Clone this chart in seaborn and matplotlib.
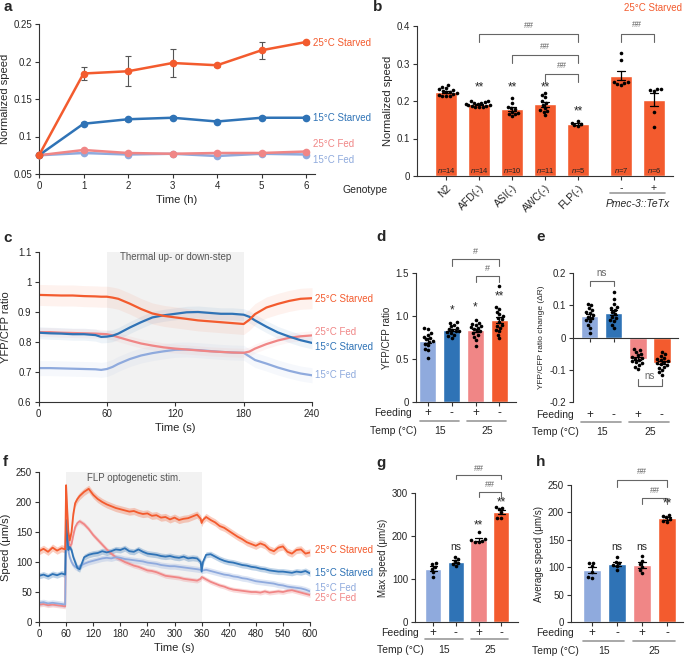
import numpy as np
import pandas as pd
import matplotlib
matplotlib.use('Agg')
import matplotlib.pyplot as plt
from matplotlib.ticker import FormatStrFormatter
import seaborn as sns

sns.set_style('ticks')
plt.rcParams['font.family'] = ['Liberation Sans', 'DejaVu Sans']
plt.rcParams['axes.unicode_minus'] = False
plt.rcParams['axes.linewidth'] = 0.8
plt.rcParams['axes.edgecolor'] = '#333333'
plt.rcParams['mathtext.fontset'] = 'custom'
plt.rcParams['mathtext.it'] = 'Liberation Sans:italic'

C25S = '#F35B2E'
C15S = '#2F73B6'
C25F = '#F08686'
C15F = '#8FAADD'
GREY = '#666666'

# ---------------- data ----------------
# a: normalized speed over starvation time
hours = [0, 1, 2, 3, 4, 5, 6]
a_25s = [0.075, 0.184, 0.187, 0.198, 0.195, 0.215, 0.226]
a_25s_err = [0, 0.009, 0.020, 0.019, 0.002, 0.011, 0.002]
a_15s = [0.075, 0.117, 0.123, 0.125, 0.120, 0.125, 0.125]
a_15s_err = [0, 0.002, 0.002, 0.002, 0.002, 0.002, 0.002]
a_25f = [0.075, 0.082, 0.078, 0.077, 0.078, 0.078, 0.080]
a_25f_err = [0, 0.002, 0.001, 0.001, 0.001, 0.001, 0.001]
a_15f = [0.075, 0.078, 0.076, 0.077, 0.074, 0.077, 0.076]
a_15f_err = [0, 0.001, 0.001, 0.001, 0.001, 0.001, 0.001]

# b: normalized speed by genotype (25C starved)
b_names = ['N2', 'AFD(-)', 'ASI(-)', 'AWC(-)', 'FLP(-)', '-', '+']
b_pos = [0, 1, 2, 3, 4, 5.3, 6.3]
b_n2 = [0.243, 0.238, 0.235, 0.232, 0.229, 0.227, 0.225, 0.223, 0.221, 0.219, 0.217, 0.214, 0.213, 0.214]
b_afd = [0.201, 0.199, 0.197, 0.195, 0.194, 0.192, 0.191, 0.190, 0.189, 0.188, 0.186, 0.185, 0.183, 0.184]
b_asi = [0.209, 0.196, 0.185, 0.182, 0.178, 0.172, 0.168, 0.166, 0.165, 0.159]
b_awc = [0.222, 0.215, 0.211, 0.200, 0.196, 0.190, 0.182, 0.176, 0.174, 0.172, 0.163]
b_flp = [0.147, 0.142, 0.138, 0.135, 0.133]
b_tetx_minus = [0.327, 0.309, 0.252, 0.250, 0.248, 0.246, 0.244]
b_tetx_plus = [0.233, 0.231, 0.229, 0.226, 0.172, 0.130]
b_stars = ['', '**', '**', '**', '**', '', '']

# c: YFP/CFP ratio traces
t_c = [0, 10, 20, 30, 40, 50, 55, 60, 65, 70, 80, 90, 100, 110, 120, 130, 140, 150,
       160, 170, 180, 185, 190, 200, 210, 220, 230, 240]
c_25s = [0.957, 0.956, 0.955, 0.955, 0.953, 0.952, 0.951, 0.951, 0.948, 0.944, 0.928, 0.910,
         0.895, 0.887, 0.882, 0.877, 0.872, 0.869, 0.866, 0.863, 0.860, 0.874, 0.893, 0.915,
         0.927, 0.937, 0.944, 0.946]
c_15s = [0.831, 0.829, 0.828, 0.826, 0.826, 0.823, 0.817, 0.818, 0.821, 0.828, 0.848, 0.866,
         0.882, 0.889, 0.894, 0.899, 0.900, 0.897, 0.894, 0.894, 0.891, 0.884, 0.872, 0.851,
         0.832, 0.818, 0.806, 0.797]
c_25f = [0.833, 0.833, 0.831, 0.830, 0.829, 0.828, 0.827, 0.826, 0.822, 0.816, 0.805, 0.795,
         0.788, 0.782, 0.778, 0.775, 0.772, 0.769, 0.767, 0.765, 0.764, 0.768, 0.778, 0.793,
         0.805, 0.814, 0.819, 0.822]
c_15f = [0.713, 0.713, 0.712, 0.711, 0.710, 0.709, 0.707, 0.710, 0.717, 0.727, 0.743, 0.755,
         0.763, 0.769, 0.774, 0.775, 0.773, 0.770, 0.767, 0.765, 0.764, 0.752, 0.740, 0.728,
         0.715, 0.704, 0.695, 0.689]
c_err = {'25S': 0.035, '15S': 0.02, '25F': 0.015, '15F': 0.025}

# d, e: ratio and ratio change (15F, 15S, 25F, 25S)
d_15f = [0.86, 0.85, 0.80, 0.78, 0.76, 0.74, 0.73, 0.71, 0.70, 0.68, 0.66, 0.62, 0.60, 0.51]
d_15s = [0.93, 0.92, 0.90, 0.88, 0.86, 0.85, 0.84, 0.83, 0.82, 0.81, 0.80, 0.78, 0.77, 0.75]
d_25f = [0.95, 0.92, 0.91, 0.90, 0.88, 0.87, 0.86, 0.85, 0.83, 0.82, 0.80, 0.78, 0.76, 0.72, 0.65]
d_25s = [1.35, 1.10, 1.08, 1.05, 1.02, 1.00, 0.98, 0.96, 0.93, 0.90, 0.88, 0.86, 0.84, 0.82, 0.78, 0.74]
e_15f = [0.105, 0.100, 0.092, 0.085, 0.080, 0.075, 0.070, 0.065, 0.060, 0.055, 0.050, 0.040, 0.030, 0.015]
e_15s = [0.140, 0.120, 0.105, 0.095, 0.090, 0.085, 0.078, 0.072, 0.065, 0.060, 0.055, 0.050, 0.040, 0.030]
e_25f = [-0.035, -0.040, -0.045, -0.050, -0.055, -0.060, -0.063, -0.066, -0.070, -0.073, -0.077,
         -0.080, -0.085, -0.090, -0.098]
e_25s = [-0.045, -0.052, -0.058, -0.063, -0.067, -0.070, -0.073, -0.076, -0.079, -0.082, -0.086,
         -0.090, -0.094, -0.100, -0.108, -0.115]

# f: speed traces with FLP stimulation
t_f = [0, 10, 20, 30, 40, 50, 58, 60, 62, 65, 68, 72, 76, 80, 85, 90,
       100, 110, 120, 130, 140, 150, 160, 170, 180, 190, 200, 210, 220, 230, 240, 250, 260,
       270, 280, 290, 300, 310, 320, 330, 340, 350,
       358, 360, 363,
       370, 380, 390, 400, 410, 420, 430, 440, 450, 460, 470, 480, 490, 500, 510, 520, 530,
       540, 550, 560, 570, 580, 590, 600]
f_25s = [118, 122, 117, 124, 119, 123, 121, 228, 195, 150, 136, 150, 180, 198, 205, 210,
         217, 222, 212, 205, 200, 196, 193, 190, 188, 186, 184, 185, 182, 180, 181, 177, 178,
         174, 175, 171, 174, 170, 172, 173, 176, 179,
         172, 165, 170,
         175, 170, 166, 160, 157, 152, 147, 142, 138, 133, 130, 127, 131, 128, 121, 118, 124,
         126, 117, 114, 120, 121, 114, 116]
f_15s = [77, 79, 76, 80, 78, 81, 79, 170, 150, 120, 125, 120, 108, 100, 90, 88,
         108, 112, 114, 115, 118, 116, 118, 121, 120, 123, 118, 117, 121, 117, 114, 113, 112,
         110, 109, 110, 108, 107, 109, 106, 107, 106,
         100, 84, 100,
         112, 113, 109, 105, 102, 100, 99, 97, 95, 94, 92, 91, 89, 88, 86, 85, 84,
         84, 83, 82, 84, 83, 85, 81]
f_15f = [32, 33, 31, 32, 31, 30, 29, 150, 135, 118, 108, 100, 95, 92, 90, 93,
         97, 100, 102, 104, 106, 107, 106, 108, 107, 105, 104, 103, 102, 101, 99, 98, 97,
         95, 94, 93, 93, 92, 91, 90, 89, 88,
         87, 86, 86,
         87, 85, 83, 81, 79, 78, 76, 75, 73, 72, 70, 68, 67, 66, 65, 64, 62,
         61, 59, 58, 57, 56, 54, 51]
f_25f = [29, 30, 28, 29, 28, 27, 26, 205, 175, 140, 125, 130, 145, 158, 165, 168,
         163, 155, 145, 137, 129, 121, 114, 108, 104, 100, 97, 94, 92, 89, 86, 85, 83,
         80, 77, 76, 75, 74, 72, 71, 70, 69,
         72, 75, 74,
         71, 67, 64, 61, 59, 56, 54, 53, 52, 51, 50, 50, 49, 51, 49, 50, 51,
         50, 52, 53, 51, 49, 47, 45]
f_err = {'25S': 6, '15S': 5, '15F': 5, '25F': 4}

# g, h: max and average speed (15F, 15S, 25F, 25S)
g_15f = [137, 135, 129, 124, 116, 105]
g_15s = [152, 146, 141, 137, 134, 130]
g_25f = [209, 192, 190, 188, 187, 185]
g_25s = [268, 266, 262, 255, 243, 242]
h_15f = [108, 107, 102, 91, 82, 80]
h_15s = [118, 110, 107, 104, 102, 95]
h_25f = [121, 112, 106, 100, 95, 90]
h_25s = [195, 193, 191, 188, 184, 183]

feeding = ['+', '-', '+', '-']
temps = ['15', '25']
groups = ['15F', '15S', '25F', '25S']
group_colors = [C15F, C15S, C25F, C25S]

# ---------------- figure ----------------
fig = plt.figure(figsize=(6.85, 6.56), dpi=100)
W, H = 685.0, 656.0
TICK = 7
LAB = 8


def add_ax(l, t, r, b):
    return fig.add_axes([l / W, 1 - b / H, (r - l) / W, (b - t) / H])


def style(ax):
    sns.despine(ax=ax)
    ax.tick_params(labelsize=TICK, length=3, width=0.8, color='#333333', pad=2)


def bracket(ax, x1, x2, y, drop, label, ty, fs=6.5, color=GREY):
    ax.plot([x1, x1, x2, x2], [y - drop, y, y, y - drop], color=color, lw=0.8, clip_on=False)
    ax.text((x1 + x2) / 2, ty, label, ha='center', va='center', fontsize=fs, color=color, clip_on=False)


def bar_panel(ax, data, width=0.72):
    df = pd.DataFrame({'grp': np.repeat(groups, [len(v) for v in data]),
                       'val': np.concatenate(data)})
    sns.barplot(data=df, x='grp', y='val', hue='grp', order=groups, hue_order=groups,
                palette=group_colors, saturation=1, width=width, errorbar='se', capsize=0.3,
                err_kws={'color': 'k', 'linewidth': 0.9}, legend=False, ax=ax)
    sns.swarmplot(data=df, x='grp', y='val', order=groups, color='k', size=2.6, ax=ax)
    ax.set_xlabel('')


def feed_rows(ax, y_feed, y_line, y_temp):
    tr = ax.get_xaxis_transform()
    ax.set_xticks(range(4))
    ax.tick_params(axis='x', labelbottom=False)
    ax.text(-1.45, y_feed, 'Feeding', transform=tr, ha='center', va='center', fontsize=7.5)
    ax.text(-1.45, y_temp, 'Temp (\u00b0C)', transform=tr, ha='center', va='center', fontsize=7.5)
    for i, s in enumerate(feeding):
        ax.text(i, y_feed, s, transform=tr, ha='center', va='center', fontsize=8.5)
    for j, s in enumerate(temps):
        ax.plot([2 * j - 0.35, 2 * j + 1.3], [y_line, y_line], transform=tr, clip_on=False,
                color='#999999', lw=1.2)
        ax.text(2 * j + 0.5, y_temp, s, transform=tr, ha='center', va='center', fontsize=7.5)


# ---- a
ax = add_ax(39, 24, 315, 174)
a_series = [(a_15f, a_15f_err, C15F, '15\u00b0C Fed', 0.0687),
            (a_25f, a_25f_err, C25F, '25\u00b0C Fed', 0.0896),
            (a_15s, a_15s_err, C15S, '15\u00b0C Starved', 0.125),
            (a_25s, a_25s_err, C25S, '25\u00b0C Starved', 0.225)]
for vals, errs, col, name, ly in a_series:
    ax.errorbar(hours, vals, yerr=errs, fmt='none', ecolor='#555555', elinewidth=0.8,
                capsize=2.5, capthick=0.8, zorder=1)
    sns.lineplot(x=hours, y=vals, color=col, marker='o', markersize=5.5, markeredgewidth=0,
                 linewidth=1.8, ax=ax, clip_on=False, zorder=3)
    ax.text(6.16, ly, name, color=col, fontsize=7, va='center', ha='left', clip_on=False)
ax.set_xlim(0, 6.2)
ax.set_ylim(0.05, 0.25)
ax.set_xticks(hours)
ax.set_yticks([0.05, 0.1, 0.15, 0.2, 0.25])
ax.yaxis.set_major_formatter(FormatStrFormatter('%g'))
ax.set_xlabel('Time (h)', fontsize=LAB, labelpad=3)
ax.set_ylabel('Normalized speed', fontsize=LAB)
ax.yaxis.set_label_coords(-0.105, 0.5)
style(ax)

# ---- b
ax = add_ax(417, 26, 673, 176)
b_vals = [b_n2, b_afd, b_asi, b_awc, b_flp, b_tetx_minus, b_tetx_plus]
df_b = pd.DataFrame({'pos': np.repeat(b_pos, [len(v) for v in b_vals]),
                     'val': np.concatenate(b_vals)})
sns.barplot(data=df_b, x='pos', y='val', native_scale=True, color=C25S, saturation=1,
            width=0.67, errorbar='se', capsize=0.25, err_kws={'color': 'k', 'linewidth': 0.9}, ax=ax)
sns.swarmplot(data=df_b, x='pos', y='val', native_scale=True, color='k', size=2.6, ax=ax)
ax.set_xlim(-0.88, 6.88)
ax.set_ylim(0, 0.4)
ax.set_yticks([0, 0.1, 0.2, 0.3, 0.4])
ax.yaxis.set_major_formatter(FormatStrFormatter('%g'))
ax.set_xticks(b_pos)
ax.set_xticklabels(b_names)
for lab in ax.get_xticklabels()[:5]:
    lab.set_rotation(45)
    lab.set_ha('right')
    lab.set_rotation_mode('anchor')
style(ax)
ax.tick_params(axis='x', labelsize=7.5)
ax.set_xlabel('')
ax.set_ylabel('Normalized speed', fontsize=LAB, labelpad=3)
for p, v, s in zip(b_pos, b_vals, b_stars):
    ax.text(p, 0.003, r'$\it{n}$=%d' % len(v), ha='center', va='bottom', fontsize=5.5, color='#222222')
    if s:
        ax.text(p, 0.171 if p == 4 else 0.237, s, ha='center', va='center', fontsize=8.5)
bracket(ax, 1, 4, 0.379, 0.021, '##', 0.401)
bracket(ax, 2, 4, 0.323, 0.021, '##', 0.346)
bracket(ax, 3, 4, 0.272, 0.021, '##', 0.295)
bracket(ax, 5.3, 6.3, 0.380, 0.022, '##', 0.403)
trb = ax.get_xaxis_transform()
ax.text(-2.45, -0.093, 'Genotype', transform=trb, ha='center', va='center', fontsize=7.5)
ax.plot([4.97, 6.64], [-0.111, -0.111], transform=trb, clip_on=False, color='#999999', lw=1.2)
ax.text(5.8, -0.187, 'Pmec-3::TeTx', transform=trb, ha='center', va='center', fontsize=7.5,
        style='italic')
fig.text(653 / W, 1 - 8 / H, '25\u00b0C Starved', color=C25S, fontsize=7, ha='center', va='center')

# ---- c
ax = add_ax(38.5, 252, 312, 402)
ax.axvspan(60, 180, color='#F2F2F2', lw=0, zorder=0)
c_series = [(c_15f, '15F', C15F, '15\u00b0C Fed', 0.69),
            (c_25f, '25F', C25F, '25\u00b0C Fed', 0.834),
            (c_15s, '15S', C15S, '15\u00b0C Starved', 0.784),
            (c_25s, '25S', C25S, '25\u00b0C Starved', 0.945)]
for vals, key, col, name, ly in c_series:
    v = np.array(vals)
    ax.fill_between(t_c, v - c_err[key], v + c_err[key], color=col, alpha=0.08, lw=0)
    sns.lineplot(x=t_c, y=vals, color=col, linewidth=1.6, ax=ax)
    ax.text(243, ly, name, color=col, fontsize=7, va='center', ha='left', clip_on=False)
ax.text(120, 1.085, 'Thermal up- or down-step', ha='center', va='center', fontsize=7, color='#555555')
ax.set_xlim(0, 240)
ax.set_ylim(0.6, 1.1)
ax.set_xticks([0, 60, 120, 180, 240])
ax.set_yticks([0.6, 0.7, 0.8, 0.9, 1.0, 1.1])
ax.yaxis.set_major_formatter(FormatStrFormatter('%g'))
ax.set_xlabel('Time (s)', fontsize=LAB, labelpad=3)
ax.set_ylabel('YFP/CFP ratio', fontsize=LAB)
ax.yaxis.set_label_coords(-0.1, 0.5)
style(ax)

# ---- d
ax = add_ax(416, 273, 516, 402)
bar_panel(ax, [d_15f, d_15s, d_25f, d_25s])
ax.set_xlim(-0.5, 3.7)
ax.set_ylim(0, 1.5)
ax.set_yticks([0, 0.5, 1.0, 1.5])
ax.set_yticklabels(['0', '0.5', '1.0', '1.5'])
ax.set_ylabel('YFP/CFP ratio', fontsize=7, labelpad=3)
style(ax)
feed_rows(ax, -0.085, -0.147, -0.225)
ax.text(1, 1.07, '*', ha='center', va='center', fontsize=8.5)
ax.text(2, 1.10, '*', ha='center', va='center', fontsize=8.5)
ax.text(3, 1.23, '**', ha='center', va='center', fontsize=8.5)
bracket(ax, 1, 3, 1.66, 0.08, '#', 1.75)
bracket(ax, 2, 3, 1.46, 0.07, '#', 1.55)

# ---- e
ax = add_ax(573, 273, 678, 402)
bar_panel(ax, [e_15f, e_15s, e_25f, e_25s])
ax.set_xlim(-0.7, 3.67)
ax.set_ylim(-0.2, 0.2)
ax.set_yticks([-0.2, -0.1, 0, 0.1, 0.2])
ax.yaxis.set_major_formatter(FormatStrFormatter('%g'))
ax.set_ylabel('YFP/CFP ratio change (\u0394R)', fontsize=6, labelpad=3)
style(ax)
ax.spines['bottom'].set_position(('data', 0))
feed_rows(ax, -0.10, -0.155, -0.233)
bracket(ax, 0, 1, 0.175, 0.015, 'ns', 0.2, fs=7)
bracket(ax, 2, 3, -0.15, -0.02, 'ns', -0.12, fs=7)

# ---- f
ax = add_ax(39, 472, 310, 622)
ax.axvspan(60, 360, color='#F2F2F2', lw=0, zorder=0)
f_series = [(f_25f, '25F', C25F, '25\u00b0C Fed', 40),
            (f_15f, '15F', C15F, '15\u00b0C Fed', 57),
            (f_15s, '15S', C15S, '15\u00b0C Starved', 82),
            (f_25s, '25S', C25S, '25\u00b0C Starved', 120)]
for vals, key, col, name, ly in f_series:
    v = np.array(vals)
    ax.fill_between(t_f, v - f_err[key], v + f_err[key], color=col, alpha=0.3, lw=0)
    sns.lineplot(x=t_f, y=vals, color=col, linewidth=1.3, ax=ax)
    ax.text(612, ly, name, color=col, fontsize=7, va='center', ha='left', clip_on=False)
ax.text(210, 240, 'FLP optogenetic stim.', ha='center', va='center', fontsize=7, color='#555555')
ax.set_xlim(0, 600)
ax.set_ylim(0, 250)
ax.set_xticks(range(0, 601, 60))
ax.set_yticks([0, 50, 100, 150, 200, 250])
ax.set_xlabel('Time (s)', fontsize=LAB, labelpad=3)
ax.set_ylabel('Speed (\u03bcm/s)', fontsize=LAB)
ax.yaxis.set_label_coords(-0.105, 0.5)
style(ax)

# ---- g
ax = add_ax(415, 493, 518, 622)
bar_panel(ax, [g_15f, g_15s, g_25f, g_25s])
ax.set_xlim(-0.8, 3.74)
ax.set_ylim(0, 300)
ax.set_yticks([0, 100, 200, 300])
ax.set_ylabel('Max speed (\u03bcm/s)', fontsize=7, labelpad=3)
style(ax)
feed_rows(ax, -0.085, -0.134, -0.217)
ax.text(1, 174, 'ns', ha='center', va='center', fontsize=7.5)
ax.text(2, 225, '**', ha='center', va='center', fontsize=8.5)
ax.text(3, 279, '**', ha='center', va='center', fontsize=8.5)
bracket(ax, 1, 3, 343, 11, '##', 358)
bracket(ax, 2, 3, 302, 12, '##', 320)

# ---- h
ax = add_ax(571, 485, 683, 622)
bar_panel(ax, [h_15f, h_15s, h_25f, h_25s])
ax.set_xlim(-0.83, 3.63)
ax.set_ylim(0, 250)
ax.set_yticks([0, 50, 100, 150, 200, 250])
ax.set_ylabel('Average speed (\u03bcm/s)', fontsize=7, labelpad=3)
style(ax)
feed_rows(ax, -0.08, -0.139, -0.212)
ax.text(1, 136, 'ns', ha='center', va='center', fontsize=7.5)
ax.text(2, 136, 'ns', ha='center', va='center', fontsize=7.5)
ax.text(3, 216, '**', ha='center', va='center', fontsize=8.5)
bracket(ax, 1, 3, 260, 13, '##', 274)
bracket(ax, 2, 3, 227, 12, '##', 240)

# panel letters
for letter, (px, py) in zip('abcdefgh', [(3, 7), (373, 7), (3, 238), (376, 237), (536, 237),
                                         (3, 462), (376, 463), (536, 462)]):
    fig.text(px / W, 1 - py / H, letter, fontsize=11, fontweight='bold', ha='left', va='center')

fig.savefig('out.png', dpi=100)
